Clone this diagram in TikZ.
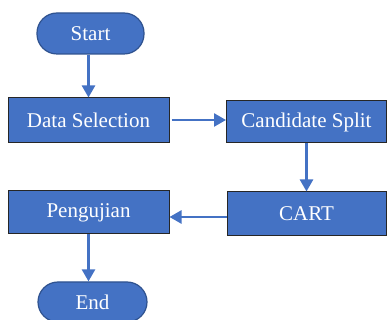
\documentclass[tikz,border=0pt]{standalone}
\usepackage{fontspec}
\setmainfont{Liberation Serif}
\usetikzlibrary{arrows.meta}
\definecolor{boxblue}{HTML}{4472C4}
\definecolor{edgeblue}{HTML}{2F528F}
\begin{document}
\begin{tikzpicture}[x=1pt,y=-1pt,
  procbox/.style={draw=black!85, line width=1pt, fill=boxblue, text=white,
    inner sep=0pt, font=\fontsize{21}{25}\selectfont},
  termbox/.style={draw=edgeblue, line width=1.2pt, fill=boxblue, text=white,
    rounded corners=20pt, inner sep=0pt, font=\fontsize{21}{25}\selectfont},
  arr/.style={draw=boxblue, line width=2.5pt, -{Triangle[width=13pt,length=12pt]}}]
\useasboundingbox (0,0) rectangle (388,320);
\begin{scope}
\clip (0,0) rectangle (388,320);
\node[termbox, minimum width=107pt, minimum height=41pt] (start) at (90.5,33.5) {Start};
\node[procbox, minimum width=161pt, minimum height=45pt] (ds) at (88.5,120.5) {Data Selection};
\node[procbox, minimum width=160pt, minimum height=42pt] (cs) at (306.5,122) {Candidate Split};
\node[procbox, minimum width=159pt, minimum height=44pt] (cart) at (306.5,214) {CART};
\node[procbox, minimum width=161pt, minimum height=43pt] (peng) at (88.5,212.5) {Pengujian};
\node[termbox, minimum width=109pt, minimum height=40pt] (end) at (92.5,302) {End};
\draw[arr] (start.south -| ds.north) -- (ds.north);
\draw[arr, shorten <=2pt] ([yshift=2pt]ds.east |- cs.west) -- ([yshift=2pt]cs.west);
\draw[arr] (cs.south) -- (cs.south |- cart.north);
\draw[arr] ([yshift=-3pt]cart.west) -- ([yshift=-3pt]cart.west -| peng.east);
\draw[arr] (peng.south) -- (peng.south |- end.north);
\end{scope}
\end{tikzpicture}
\end{document}
